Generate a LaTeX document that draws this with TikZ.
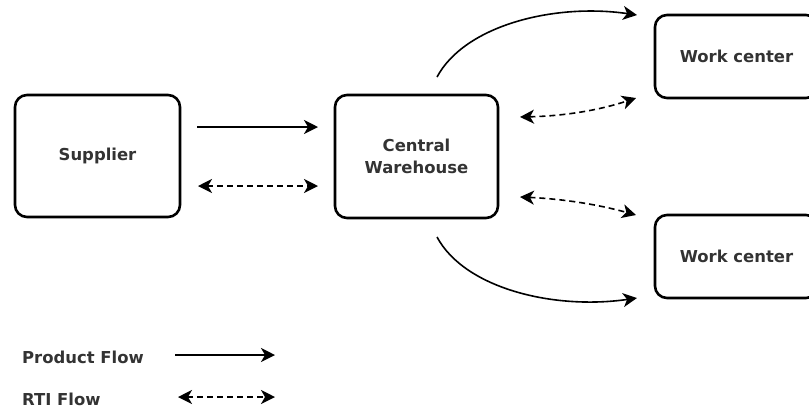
\documentclass[tikz,border=0pt]{standalone}
\usepackage{fontspec}
\setmainfont{DejaVu Sans}
\usetikzlibrary{arrows.meta}
\begin{document}
\begin{tikzpicture}[x=1bp,y=-1bp,
  box/.style={draw, line width=2.6bp, rounded corners=12bp, align=center, inner sep=0pt,
    font=\fontsize{16.5}{22}\selectfont\bfseries, text=black!80},
  flow/.style={line width=1.6bp, -{Stealth[length=14bp,width=14bp,inset=4bp]}},
  rti/.style={line width=1.6bp, dash pattern=on 6bp off 4bp,
    {Stealth[length=14bp,width=14bp,inset=4bp]}-{Stealth[length=14bp,width=14bp,inset=4bp]}},
  lbl/.style={anchor=base west, inner sep=0pt, font=\fontsize{16.5}{19}\selectfont\bfseries, text=black!80}]
\useasboundingbox (0,0) rectangle (809,408);
% boxes
\node[box, minimum width=165bp, minimum height=122bp] (sup) at (97.5,156) {Supplier};
\node[box, minimum width=163bp, minimum height=123bp] (cw) at (416.5,156.5) {Central\\Warehouse};
\node[box, minimum width=163bp, minimum height=83bp] (wc1) at (736.5,56.5) {Work center};
\node[box, minimum width=163bp, minimum height=83bp] (wc2) at (736.5,256.5) {Work center};
% connector end points
\coordinate (s1) at (197,127); \coordinate (c1) at (318,127);
\coordinate (s2) at (198,186); \coordinate (c2) at (318,186);
\coordinate (t0) at (437,77);  \coordinate (t1) at (637,15);
\coordinate (u0) at (520,117); \coordinate (u1) at (636,98);
\coordinate (l0) at (520,197); \coordinate (l1) at (636,215);
\coordinate (b0) at (437,237); \coordinate (b1) at (637,298);
% connectors
\draw[flow] (s1) -- (c1);
\draw[rti] (s2) -- (c2);
\draw[flow] (t0) .. controls (465,25) and (555,3) .. (t1);
\draw[rti] (u0) .. controls (565,116) and (600,110) .. (u1);
\draw[rti] (l0) .. controls (565,199) and (600,205) .. (l1);
\draw[flow] (b0) .. controls (465,289) and (555,310) .. (b1);
% legend
\node[lbl] (lp) at (22,363) {Product Flow};
\node[lbl] (lr) at (22,405) {RTI Flow};
\coordinate (lp0) at (175,355); \coordinate (lp1) at (275,355);
\coordinate (lr0) at (178,397); \coordinate (lr1) at (275,397);
\draw[flow] (lp0) -- (lp1);
\draw[rti] (lr0) -- (lr1);
\end{tikzpicture}
\end{document}
